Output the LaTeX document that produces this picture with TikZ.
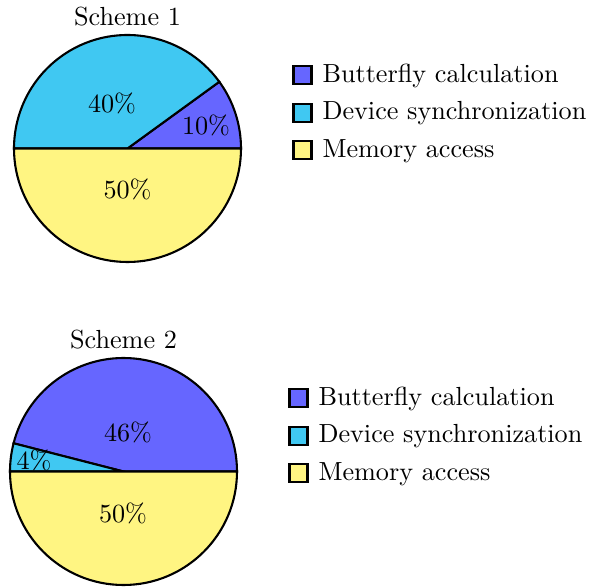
\documentclass[tikz,border=0pt]{standalone}
\usepackage{tikz}
\usetikzlibrary{positioning}
\definecolor{bfly}{RGB}{102,102,255}
\definecolor{sync}{RGB}{64,200,242}
\definecolor{mem}{RGB}{255,245,130}
\tikzset{
  slice/.style={draw=black,thick},
  pct/.style={inner sep=0pt},
  title/.style={inner sep=0pt},
  keybox/.style={draw=black,thick,minimum size=6.9pt,inner sep=0pt},
  keytext/.style={inner sep=0pt,text height=1.5ex,text depth=.25ex}
}

\begin{document}
\begin{tikzpicture}[x=0.382pt,y=0.382pt]
  \useasboundingbox (0,0) rectangle (589,587);
  % Scheme 1
  \begin{scope}[shift={(127.5,438.5)}]
    \draw[slice,fill=bfly] (0,0) -- (0:113.5) arc[start angle=0,end angle=36,radius=113.5] -- cycle;
    \draw[slice,fill=sync] (0,0) -- (36:113.5) arc[start angle=36,end angle=180,radius=113.5] -- cycle;
    \draw[slice,fill=mem] (0,0) -- (180:113.5) arc[start angle=180,end angle=360,radius=113.5] -- cycle;
    \node[pct] (p1a) at (78.5,23.5) {10\%};
    \node[pct] (p1b) at (-15.5,45.5) {40\%};
    \node[pct] (p1c) at (0,-40.5) {50\%};
    \node[title] (t1) at (0,131.5) {Scheme 1};
    \node[keybox,fill=bfly] (k1a) at (175,73.5) {};
    \node[keybox,fill=sync,below=6.7pt of k1a] (k1b) {};
    \node[keybox,fill=mem,below=6.7pt of k1b] (k1c) {};
    \node[keytext,right=3.6pt of k1a] (n1a) {Butterfly calculation};
    \node[keytext,right=3.6pt of k1b] (n1b) {Device synchronization};
    \node[keytext,right=3.6pt of k1c] (n1c) {Memory access};
  \end{scope}
  % Scheme 2
  \begin{scope}[shift={(123.5,115.5)}]
    \draw[slice,fill=bfly] (0,0) -- (0:113.5) arc[start angle=0,end angle=165.6,radius=113.5] -- cycle;
    \draw[slice,fill=sync] (0,0) -- (165.6:113.5) arc[start angle=165.6,end angle=180,radius=113.5] -- cycle;
    \draw[slice,fill=mem] (0,0) -- (180:113.5) arc[start angle=180,end angle=360,radius=113.5] -- cycle;
    \node[pct] (p2a) at (4.5,39.5) {46\%};
    \node[pct] (p2b) at (-89.5,11.5) {4\%};
    \node[pct] (p2c) at (-0.5,-41.5) {50\%};
    \node[title] (t2) at (0,131.5) {Scheme 2};
    \node[keybox,fill=bfly] (k2a) at (175,73.5) {};
    \node[keybox,fill=sync,below=6.7pt of k2a] (k2b) {};
    \node[keybox,fill=mem,below=6.7pt of k2b] (k2c) {};
    \node[keytext,right=3.6pt of k2a] (n2a) {Butterfly calculation};
    \node[keytext,right=3.6pt of k2b] (n2b) {Device synchronization};
    \node[keytext,right=3.6pt of k2c] (n2c) {Memory access};
  \end{scope}
\end{tikzpicture}
\end{document}
